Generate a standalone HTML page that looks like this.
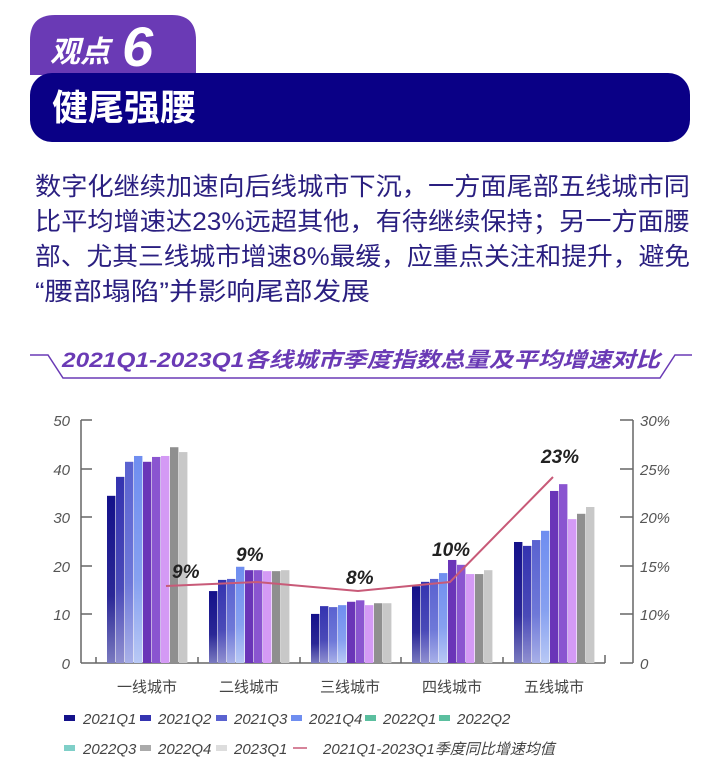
<!DOCTYPE html>
<html><head><meta charset="utf-8"><style>
body{margin:0;width:723px;height:776px;background:#fff;overflow:hidden;font-family:"Liberation Sans","Noto Sans CJK SC",sans-serif}
</style></head><body>
<svg width="723" height="776" xmlns="http://www.w3.org/2000/svg" style="position:absolute;left:0;top:0">
<defs>
<linearGradient id="g1" x1="0" y1="0" x2="0" y2="1"><stop offset="0" stop-color="#14118a"/><stop offset="0.6" stop-color="#2a2796"/><stop offset="1" stop-color="#7a7ac0"/></linearGradient>
<linearGradient id="g2" x1="0" y1="0" x2="0" y2="1"><stop offset="0" stop-color="#3433b0"/><stop offset="0.6" stop-color="#4a4ab8"/><stop offset="1" stop-color="#9090d0"/></linearGradient>
<linearGradient id="g3" x1="0" y1="0" x2="0" y2="1"><stop offset="0" stop-color="#5a62d0"/><stop offset="0.6" stop-color="#6e78d8"/><stop offset="1" stop-color="#a8b0e8"/></linearGradient>
<linearGradient id="g4" x1="0" y1="0" x2="0" y2="1"><stop offset="0" stop-color="#6f8ef0"/><stop offset="0.6" stop-color="#86a0f0"/><stop offset="1" stop-color="#b8c8f5"/></linearGradient>
</defs>
<path d="M30,75 L30,40 Q30,15 55,15 L172,15 Q196,15 196,40 L196,75 Z" fill="#6a3ab5"/>
<rect x="30" y="73" width="660" height="69" rx="22" fill="#0a0086"/>
<text x="50" y="62" font-size="30" font-weight="bold" font-style="italic" fill="#fff" font-family="'Noto Sans CJK SC',sans-serif">观点</text>
<text x="122" y="66" font-size="56" font-weight="bold" font-style="italic" fill="#fff" font-family="'Liberation Sans',sans-serif">6</text>
<text x="52" y="120" font-size="36" font-weight="bold" fill="#fff" font-family="'Noto Sans CJK SC',sans-serif">健尾强腰</text>
<g font-size="25" fill="#2a1f80" font-family="'Liberation Sans','Noto Sans CJK SC',sans-serif">
<text x="35" y="195" textLength="655" lengthAdjust="spacingAndGlyphs">数字化继续加速向后线城市下沉，一方面尾部五线城市同</text>
<text x="35" y="230" textLength="655" lengthAdjust="spacingAndGlyphs">比平均增速达23%远超其他，有待继续保持；另一方面腰</text>
<text x="35" y="265" textLength="655" lengthAdjust="spacingAndGlyphs">部、尤其三线城市增速8%最缓，应重点关注和提升，避免</text>
<text x="35" y="300" textLength="335" lengthAdjust="spacingAndGlyphs">“腰部塌陷”并影响尾部发展</text>
</g>
<path d="M30,355 L48,355 L63,378 L660,378 L675,355 L692,355" fill="none" stroke="#6a3ab5" stroke-width="1.5"/>
<text x="62" y="367" font-size="21" font-weight="bold" font-style="italic" fill="#6a3ab5" textLength="598" lengthAdjust="spacingAndGlyphs" font-family="'Liberation Sans','Noto Sans CJK SC',sans-serif">2021Q1-2023Q1各线城市季度指数总量及平均增速对比</text>
<g stroke="#666" stroke-width="1.5" fill="none">
<line x1="81" y1="420" x2="81" y2="663"/>
<line x1="81" y1="663" x2="605" y2="663"/>
<line x1="633" y1="420" x2="633" y2="663"/>
<line x1="81" y1="420" x2="92" y2="420"/><line x1="81" y1="469" x2="92" y2="469"/><line x1="81" y1="517" x2="92" y2="517"/><line x1="81" y1="566" x2="92" y2="566"/><line x1="81" y1="614" x2="92" y2="614"/>
<line x1="620" y1="420" x2="633" y2="420"/><line x1="620" y1="469" x2="633" y2="469"/><line x1="620" y1="517" x2="633" y2="517"/><line x1="620" y1="566" x2="633" y2="566"/><line x1="620" y1="614" x2="633" y2="614"/><line x1="620" y1="663" x2="633" y2="663"/>
<line x1="96" y1="657" x2="96" y2="663"/><line x1="198" y1="657" x2="198" y2="663"/><line x1="300" y1="657" x2="300" y2="663"/><line x1="401" y1="657" x2="401" y2="663"/><line x1="503" y1="657" x2="503" y2="663"/><line x1="605" y1="655" x2="605" y2="663"/>
</g>
<g font-size="15" font-style="italic" fill="#555" font-family="'Liberation Sans',sans-serif">
<text x="70" y="426" text-anchor="end">50</text><text x="70" y="475" text-anchor="end">40</text><text x="70" y="523" text-anchor="end">30</text><text x="70" y="572" text-anchor="end">20</text><text x="70" y="620" text-anchor="end">10</text><text x="70" y="669" text-anchor="end">0</text>
<text x="640" y="426">30%</text><text x="640" y="475">25%</text><text x="640" y="523">20%</text><text x="640" y="572">15%</text><text x="640" y="620">10%</text><text x="640" y="669">0</text>
</g>
<g font-size="15" fill="#444" text-anchor="middle" font-family="'Noto Sans CJK SC',sans-serif">
<text x="147" y="692">一线城市</text><text x="249" y="692">二线城市</text><text x="350" y="692">三线城市</text><text x="452" y="692">四线城市</text><text x="554" y="692">五线城市</text>
</g>
<g id="bars"></g>
<polyline points="166,586 257,582 358,591 450,582 553,477" fill="none" stroke="#c85a78" stroke-width="2"/>
<g font-size="19" font-weight="bold" font-style="italic" fill="#222" font-family="'Liberation Sans',sans-serif">
<text x="172" y="578">9%</text><text x="236" y="561">9%</text><text x="346" y="584">8%</text><text x="432" y="556">10%</text><text x="541" y="463">23%</text>
</g>
<g font-size="15" font-style="italic" fill="#444" font-family="'Liberation Sans','Noto Sans CJK SC',sans-serif">
<rect x="64" y="715" width="11" height="6" fill="#14118a"/><text x="83" y="724">2021Q1</text>
<rect x="140" y="715" width="11" height="6" fill="#3433b0"/><text x="158" y="724">2021Q2</text>
<rect x="216" y="715" width="11" height="6" fill="#5a62d0"/><text x="234" y="724">2021Q3</text>
<rect x="291" y="715" width="11" height="6" fill="#6f8ef0"/><text x="309" y="724">2021Q4</text>
<rect x="365" y="715" width="11" height="6" fill="#5bbf9f"/><text x="383" y="724">2022Q1</text>
<rect x="439" y="715" width="11" height="6" fill="#5bbf9f"/><text x="457" y="724">2022Q2</text>
<rect x="64" y="745" width="11" height="6" fill="#7fcfc8"/><text x="83" y="754">2022Q3</text>
<rect x="140" y="745" width="11" height="6" fill="#aaa"/><text x="158" y="754">2022Q4</text>
<rect x="216" y="745" width="11" height="6" fill="#ddd"/><text x="234" y="754">2023Q1</text>
<line x1="293" y1="748" x2="307" y2="748" stroke="#c85a78" stroke-width="1.5"/><text x="323" y="754">2021Q1-2023Q1季度同比增速均值</text>
</g>
</svg>
<script>
var d=[[34.4,38.3,41.4,42.6,41.4,42.4,42.6,44.4,43.4],[14.8,17.1,17.3,19.8,19.1,19.1,18.9,18.9,19.1],[10.1,11.7,11.5,11.9,12.6,12.9,11.9,12.3,12.3],[15.8,16.7,17.3,18.5,21.2,20.2,18.3,18.3,19.1],[24.9,24.1,25.3,27.2,35.4,36.8,29.6,30.7,32.1]];
var c=["url(#g1)","url(#g2)","url(#g3)","url(#g4)","#6a35b8","#8a55d0","#d49af5","#8f8f8f","#c8c8c8"];
var st=[107,209,311,412,514],s="";
for(var g=0;g<5;g++)for(var i=0;i<9;i++){var h=d[g][i]*4.86;s+='<rect x="'+(st[g]+i*9)+'" y="'+(663-h)+'" width="8.4" height="'+h+'" fill="'+c[i]+'"/>';}
document.getElementById("bars").innerHTML=s;
</script>
</body></html>
